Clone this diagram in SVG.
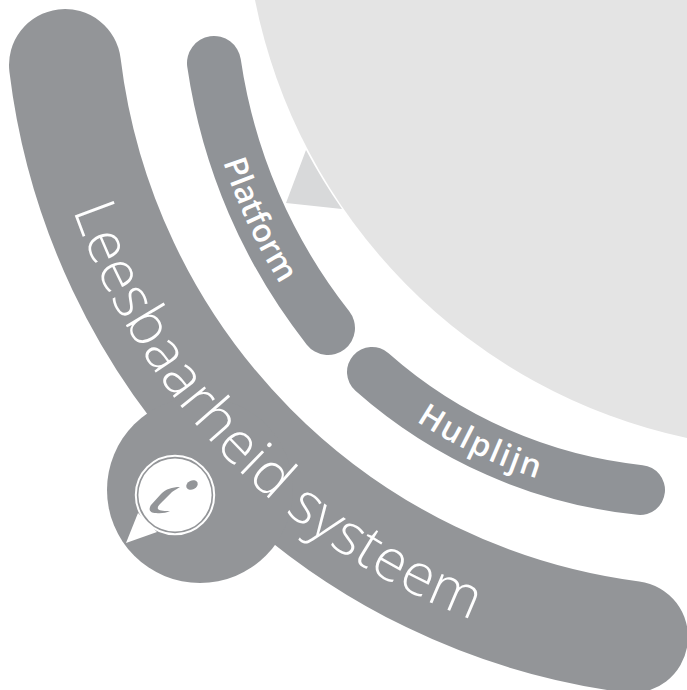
<svg xmlns="http://www.w3.org/2000/svg" width="687" height="690" viewBox="0 0 687 690">
<style>
.band{fill:none;stroke-linecap:round}
.t{fill:#fff;font-family:"Open Sans","Liberation Sans",sans-serif}
.lab{font-size:32px;font-weight:600}
.big{font-size:58px;font-weight:300;letter-spacing:.4px}
</style>
<defs>
<path id="pBig" d="M73 210 A678 678 0 0 0 640 660"/>
<path id="pPlat" d="M223 162 A573 573 0 0 0 320 340"/>
<path id="pHulp" d="M416 421 A490 490 0 0 0 630 498"/>
</defs>
<rect width="687" height="690" fill="#fff"/>
<g id="bubble">
<path d="M255 0 A560 560 0 0 0 687 438 V0 Z" fill="#e4e4e4"/>
<path d="M306 150 L286 203 L342 209 A560 560 0 0 1 306 150 Z" fill="#d8d9da"/>
</g>
<g id="leesbaarheid">
<path class="band" stroke="#939598" stroke-width="112" d="M65 65 A657 657 0 0 0 632 637"/>
<circle cx="200" cy="490" r="93" fill="#939598"/>
<text class="t big"><textPath href="#pBig">Leesbaarheid systeem</textPath></text>
</g>
<g id="info">
<circle cx="175" cy="495" r="39.200" fill="none" stroke="#fff" stroke-width="2"/>
<circle cx="175" cy="495" r="36.600" fill="#fff"/>
<path d="M126 543 L138 513 L157 532 Z" fill="#fff"/>
<ellipse cx="192" cy="485" rx="6" ry="4.500" transform="rotate(-25 192 485)" fill="#939598"/>
<path d="M180 487 C172 487 166 489 161 494 L151 505 C148 510 150 513 156 513 C161 513.500 166 513 170 511 C165 511 160 511 158 509 C157 507 159 505 163 501 L172 492 C175 490 178 488 180 487 Z" fill="#939598"/>
</g>
<g id="platform">
<path class="band" stroke="#909397" stroke-width="54" d="M214 63 A560 560 0 0 0 328 328"/>
<text class="t lab"><textPath href="#pPlat">Platform</textPath></text>
</g>
<g id="hulplijn">
<path class="band" stroke="#909397" stroke-width="50" d="M372 372 A480 480 0 0 0 640 490"/>
<text class="t lab" letter-spacing="2"><textPath href="#pHulp">Hulplijn</textPath></text>
</g>
</svg>
